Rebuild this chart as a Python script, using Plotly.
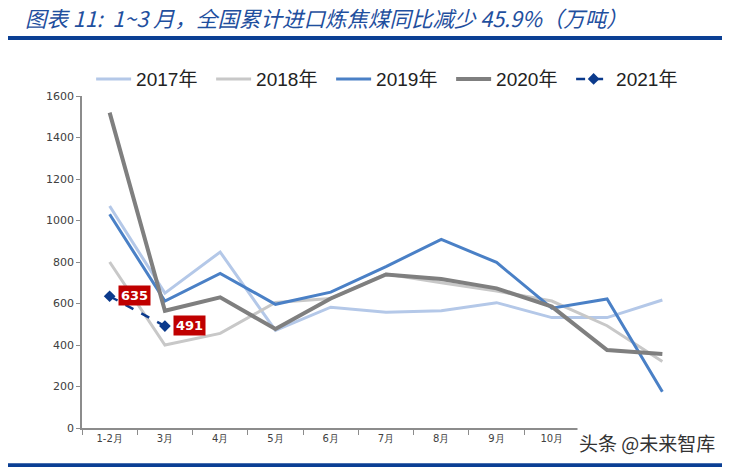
import plotly.graph_objects as go

categories = ["1-2月", "3月", "4月", "5月", "6月", "7月", "8月", "9月", "10月", "11月", "12月"]
# the last two tick labels are covered by the watermark in the reference
tick_labels = ["1-2月", "3月", "4月", "5月", "6月", "7月", "8月", "9月", "10月", "", ""]
y2017 = [1070, 650, 848, 470, 582, 558, 565, 604, 532, 532, 617]
y2018 = [800, 400, 456, 605, 624, 742, 700, 660, 612, 493, 320]
y2019 = [1030, 612, 745, 596, 655, 778, 909, 798, 577, 622, 175]
y2020 = [1520, 565, 630, 477, 624, 740, 718, 673, 585, 376, 357]
y2021 = [635, 491]
series_names = ["2017年", "2018年", "2019年", "2020年", "2021年"]

fig = go.Figure()
styles = [
    (y2017, "#b4c8e8", 3),
    (y2018, "#c8c8c8", 3),
    (y2019, "#4a80c6", 3),
    (y2020, "#7f7f7f", 4),
]
for (vals, color, w), name in zip(styles, series_names[:4]):
    fig.add_trace(go.Scatter(x=categories, y=vals, mode="lines", name=name,
                             line=dict(color=color, width=w)))

fig.add_trace(go.Scatter(x=categories[:2], y=y2021, mode="lines+markers", name=series_names[4],
                         line=dict(color="#0b3a8c", width=2.5, dash="dash"),
                         marker=dict(symbol="diamond", size=9, color="#0b3a8c")))

for c, v in zip(categories[:2], y2021):
    fig.add_annotation(x=c, y=v, text="<b>%d</b>" % v, showarrow=False, xanchor="left",
                       xshift=8, yshift=1, bgcolor="#c00000", font=dict(color="white", size=13,
                       family="Verdana, DejaVu Sans"), borderpad=2)

fig.add_annotation(xref="paper", yref="paper", x=-0.097, y=1.236, xanchor="left", yanchor="middle",
                   text="<i>图表 11:  1~3 月，全国累计进口炼焦煤同比减少 45.9%（万吨）</i>",
                   showarrow=False, font=dict(size=21.5, color="#1f4f9e", family="Noto Sans CJK SC"))
fig.add_shape(type="line", xref="paper", yref="paper", x0=-0.1217, x1=1.0576, y0=1.175, y1=1.175,
              line=dict(color="#0b3f94", width=4))
fig.add_shape(type="rect", xref="paper", yref="paper", x0=-0.13, x1=1.09, y0=-0.106, y1=-0.15,
              line=dict(width=0), fillcolor="#0b3f94")
fig.add_annotation(xref="paper", yref="paper", x=1.045, y=-0.045, xanchor="right", yanchor="middle",
                   text="头条 @未来智库", showarrow=False, bgcolor="white",
                   font=dict(size=19, color="#333333", family="Noto Sans CJK SC"))

fig.update_layout(
    width=730, height=467,
    margin=dict(l=74, r=48, t=88, b=47),
    paper_bgcolor="white", plot_bgcolor="white",
    font=dict(family="DejaVu Sans, Verdana", color="#404040"),
    showlegend=True,
    legend=dict(orientation="h", x=0.015, y=1.051, xanchor="left", yanchor="middle",
                font=dict(size=19, color="#222222", family="Liberation Sans, Noto Sans CJK SC"),
                itemwidth=35, entrywidth=70, entrywidthmode="pixels", tracegroupgap=0),
)
fig.update_xaxes(showline=True, linecolor="#8c8c8c", linewidth=1.5, ticks="outside",
                 tickson="boundaries", ticklen=5, tickcolor="#8c8c8c", showgrid=False,
                 tickmode="array", tickvals=categories, ticktext=tick_labels,
                 tickfont=dict(size=10, color="#404040"), range=[-0.5, 10.5])
fig.update_yaxes(range=[0, 1600], dtick=200, showline=True, linecolor="#8c8c8c", linewidth=1.5,
                 ticks="outside", ticklen=4, tickcolor="#8c8c8c", showgrid=False, zeroline=False,
                 tickfont=dict(size=11, color="#404040"))

fig.write_html("out.html")
